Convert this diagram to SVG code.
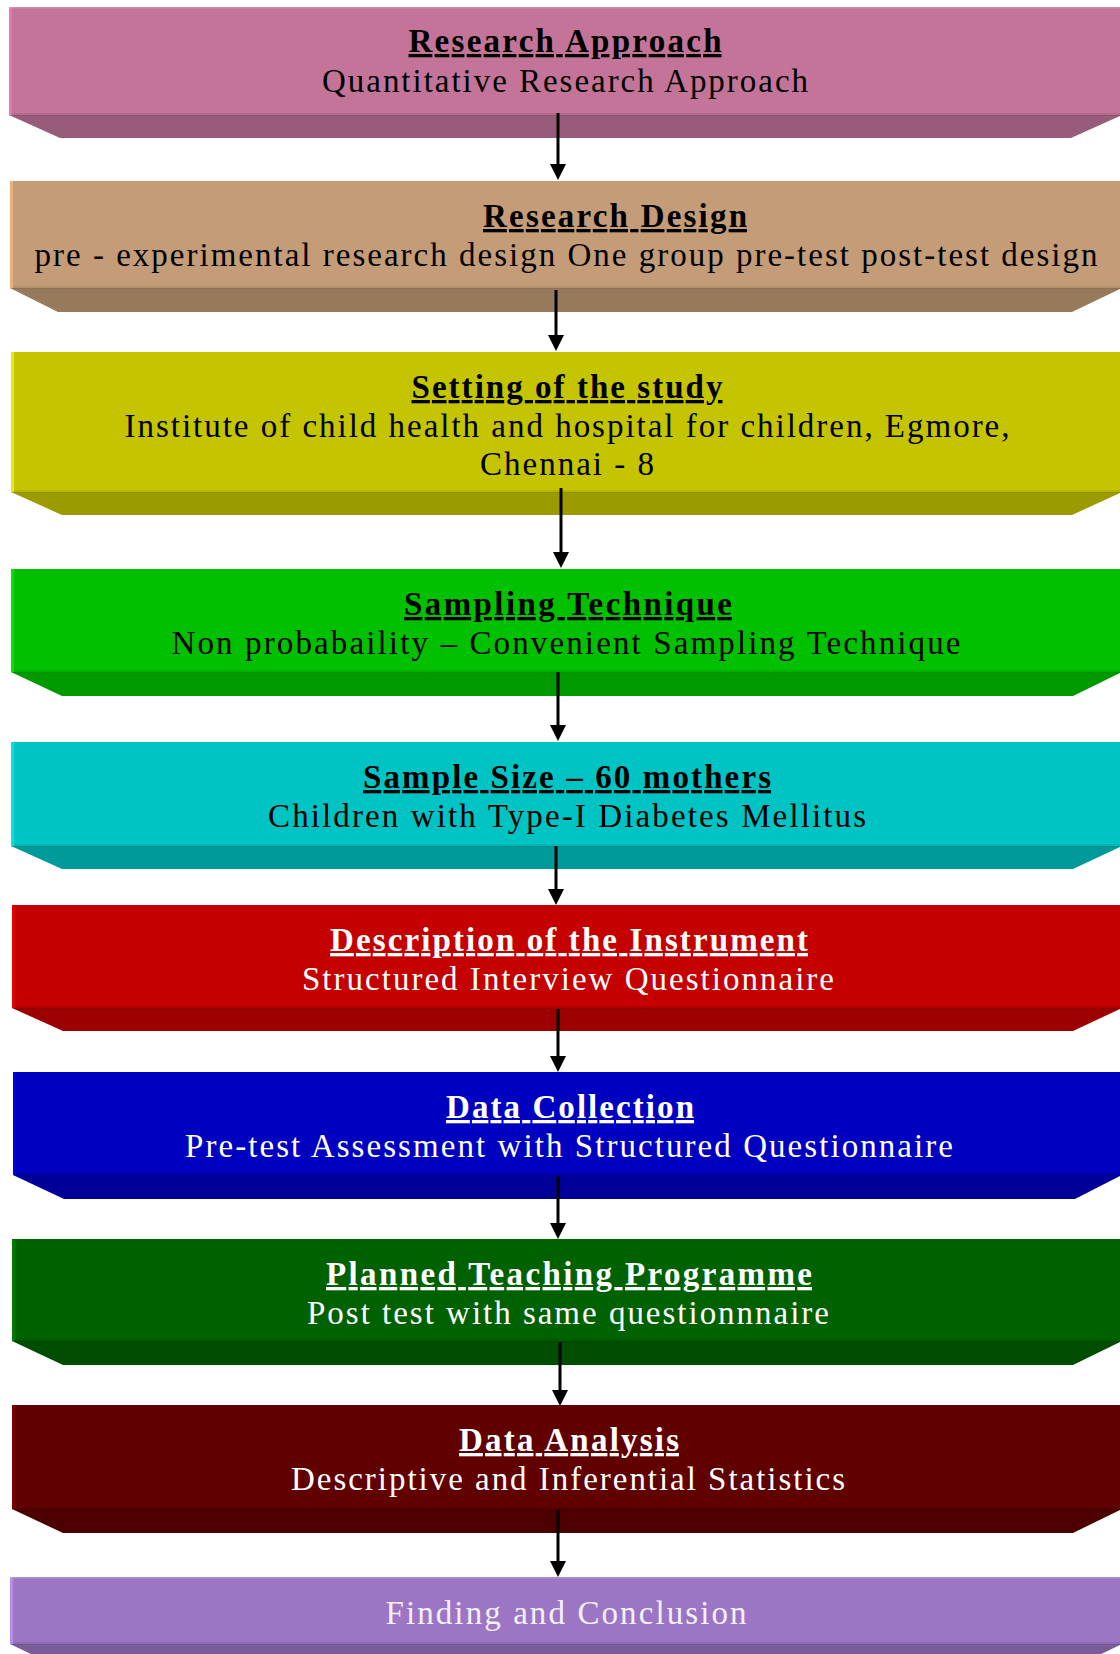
<svg xmlns="http://www.w3.org/2000/svg" width="1120" height="1654" viewBox="0 0 1120 1654">
<style>
.h{font-family:"Liberation Serif","Times New Roman",serif;font-size:33px;font-weight:bold;text-decoration:underline;text-anchor:middle}
.t{font-family:"Liberation Serif","Times New Roman",serif;font-size:33px;text-anchor:middle}
.k{fill:#000}
.w{fill:#fff}
.top{fill:#fff;opacity:0.18}
.seam{fill:#000;opacity:0.07}
.conn line{stroke:#000;stroke-width:3}
</style>
<defs>
<marker id="ah" markerUnits="userSpaceOnUse" markerWidth="17" markerHeight="17" refX="5" refY="8" orient="auto">
<path d="M0,0 L16,8 L0,16 z" fill="#000"/>
</marker>
</defs>
<rect width="1120" height="1654" fill="#fff"/>

<g id="n1">
<rect x="9" y="7" width="1113" height="108" fill="#C47499"/>
<polygon points="9,115 1122,115 1071,138 60,138" fill="#985C7B"/>
<rect x="9" y="113" width="1113" height="3" class="seam"/>
<rect x="9" y="7" width="3" height="108" fill="#E07AB4"/>
<rect x="9" y="7" width="1113" height="1.5" class="top"/>
<text x="565" y="52" class="h k" textLength="313">Research Approach</text>
<text x="565" y="92" class="t k" textLength="486">Quantitative Research Approach</text>
</g>

<g id="n2">
<rect x="10" y="181" width="1112" height="107" fill="#C49C77"/>
<polygon points="10,288 1122,288 1072,312 58,312" fill="#977A5C"/>
<rect x="10" y="286" width="1112" height="3" class="seam"/>
<rect x="10" y="181" width="3" height="107" fill="#E8B27F"/>
<text x="615" y="227" class="h k" textLength="264">Research Design</text>
<text x="566" y="266" class="t k" textLength="1063">pre - experimental research design One group pre-test post-test design</text>
</g>

<g id="n3">
<rect x="11" y="352" width="1111" height="140" fill="#C4C400"/>
<polygon points="11,492 1122,492 1072,515 62,515" fill="#9B9B00"/>
<rect x="11" y="490" width="1111" height="3" class="seam"/>
<rect x="11" y="352" width="3" height="140" fill="#E8E800"/>
<text x="567" y="398" class="h k" textLength="311">Setting of the study</text>
<text x="567" y="437" class="t k" textLength="885">Institute of child health and hospital for children, Egmore,</text>
<text x="567" y="475" class="t k" textLength="174">Chennai - 8</text>
</g>

<g id="n4">
<rect x="11" y="569" width="1111" height="103" fill="#00C000"/>
<polygon points="11,672 1122,672 1073,696 62,696" fill="#009A00"/>
<rect x="11" y="670" width="1111" height="3" class="seam"/>
<rect x="11" y="569" width="3" height="103" fill="#00E400"/>
<text x="568" y="615" class="h k" textLength="328">Sampling Technique</text>
<text x="566" y="654" class="t k" textLength="789">Non probabaility – Convenient Sampling Technique</text>
</g>

<g id="n5">
<rect x="11" y="742" width="1111" height="104" fill="#00C4C4"/>
<polygon points="11,846 1122,846 1073,869 62,869" fill="#009A9A"/>
<rect x="11" y="844" width="1111" height="3" class="seam"/>
<rect x="11" y="742" width="3" height="104" fill="#00E4E4"/>
<text x="567" y="788" class="h k" textLength="408">Sample Size – 60 mothers</text>
<text x="567" y="827" class="t k" textLength="598">Children with Type-I Diabetes Mellitus</text>
</g>

<g id="n6">
<rect x="12" y="905" width="1110" height="103" fill="#C40000"/>
<polygon points="12,1008 1122,1008 1073,1031 63,1031" fill="#9C0000"/>
<rect x="12" y="1006" width="1110" height="3" class="seam"/>
<rect x="12" y="905" width="3" height="103" fill="#E00000"/>
<text x="569" y="951" class="h w" textLength="478">Description of the Instrument</text>
<text x="568" y="990" class="t w" textLength="532">Structured Interview Questionnaire</text>
</g>

<g id="n7">
<rect x="13" y="1072" width="1109" height="103" fill="#0000C0"/>
<polygon points="13,1175 1122,1175 1075,1199 64,1199" fill="#000098"/>
<rect x="13" y="1173" width="1109" height="3" class="seam"/>
<rect x="13" y="1072" width="3" height="103" fill="#0000E6"/>
<text x="570" y="1118" class="h w" textLength="248">Data Collection</text>
<text x="569" y="1157" class="t w" textLength="768">Pre-test Assessment with Structured Questionnaire</text>
</g>

<g id="n8">
<rect x="12" y="1239" width="1110" height="102" fill="#006100"/>
<polygon points="12,1341 1122,1341 1073,1365 63,1365" fill="#004C00"/>
<rect x="12" y="1339" width="1110" height="3" class="seam"/>
<rect x="12" y="1239" width="3" height="102" fill="#007A00"/>
<text x="569" y="1285" class="h w" textLength="486">Planned Teaching Programme</text>
<text x="568" y="1324" class="t w" textLength="522">Post test with same questionnnaire</text>
</g>

<g id="n9">
<rect x="12" y="1405" width="1110" height="104" fill="#610000"/>
<polygon points="12,1509 1122,1509 1073,1533 63,1533" fill="#4C0000"/>
<rect x="12" y="1507" width="1110" height="3" class="seam"/>
<rect x="12" y="1405" width="3" height="104" fill="#7A0000"/>
<text x="569" y="1451" class="h w" textLength="220">Data Analysis</text>
<text x="568" y="1490" class="t w" textLength="554">Descriptive and Inferential Statistics</text>
</g>

<g id="n10">
<rect x="10" y="1577" width="1112" height="67" fill="#9C75C4"/>
<polygon points="10,1644 1122,1644 1072,1668 60,1668" fill="#7A5C98"/>
<rect x="10" y="1642" width="1112" height="3" class="seam"/>
<rect x="10" y="1577" width="3" height="67" fill="#B68BE6"/>
<rect x="10" y="1577" width="1112" height="1.5" class="top"/>
<text x="566" y="1624" class="t" fill="#F4F0F8" textLength="361">Finding and Conclusion</text>
</g>

<g id="connectors" class="conn">
<line x1="558" y1="113" x2="558" y2="169" marker-end="url(#ah)"/>
<line x1="556" y1="290" x2="556" y2="340" marker-end="url(#ah)"/>
<line x1="561" y1="488" x2="561" y2="557" marker-end="url(#ah)"/>
<line x1="558" y1="672" x2="558" y2="730" marker-end="url(#ah)"/>
<line x1="556" y1="846" x2="556" y2="894" marker-end="url(#ah)"/>
<line x1="558" y1="1009" x2="558" y2="1061" marker-end="url(#ah)"/>
<line x1="558" y1="1176" x2="558" y2="1228" marker-end="url(#ah)"/>
<line x1="560" y1="1342" x2="560" y2="1395" marker-end="url(#ah)"/>
<line x1="558" y1="1510" x2="558" y2="1566" marker-end="url(#ah)"/>
</g>
</svg>
